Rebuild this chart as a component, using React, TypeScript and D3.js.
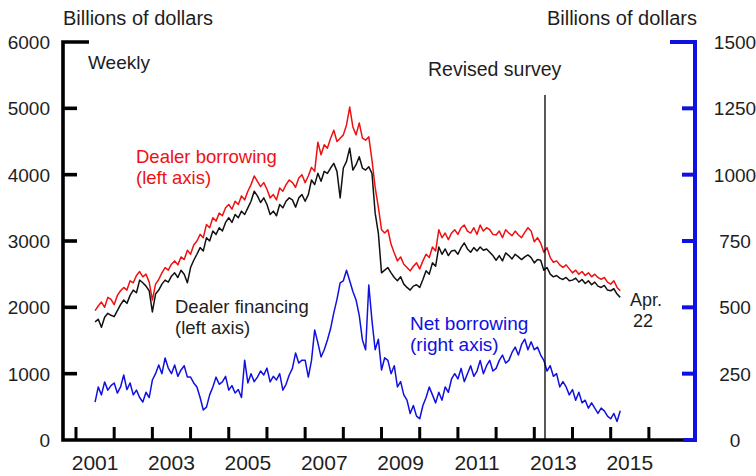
import React from 'react';
import * as d3 from 'd3';

// Monthly readings, July 2001 .. April 2015
const START_YEAR = 2001;
const START_MONTH = 7;

const dealerBorrowing = [
  1950, 2020, 2080, 2000, 2150, 2120,
  2040, 2180, 2250, 2300, 2260, 2400, 2370, 2480, 2540, 2460, 2500, 2380,
  2110, 2350, 2420, 2520, 2600, 2560, 2650, 2700, 2640, 2760, 2720, 2860,
  2800, 2940, 3000, 3100, 3050, 3250, 3200, 3350, 3300, 3420, 3380, 3500,
  3550, 3480, 3600, 3550, 3680, 3620, 3750, 3850, 3980, 3900, 3820, 3880,
  3780, 3650, 3700, 3620, 3800, 3750, 3850, 3920, 3880, 3810, 3950, 4000,
  3880, 3980, 4110, 4050, 4490, 4300, 4450, 4400, 4550, 4670, 4500, 4550,
  4600, 4750, 5020, 4720, 4600, 4780, 4550, 4520, 4570, 4220, 3810, 3510,
  3170, 3120, 3170, 2950, 2820, 2700, 2760, 2650, 2600, 2550, 2620, 2670,
  2580, 2700, 2800, 2750, 2910, 2850, 3170, 3050, 3120, 3020, 3120, 3170,
  3100, 3200, 3240, 3150, 3120, 3200, 3100, 3240, 3150, 3200, 3170, 3100,
  3090, 3150, 3050, 3170, 3120, 3080, 3150, 3090, 3050, 3130, 3200, 3150,
  2990, 3050, 2970, 2830, 2900, 2750, 2680, 2700, 2640, 2600, 2640, 2580,
  2520, 2560, 2500, 2540, 2480, 2520, 2460, 2500, 2450, 2420, 2450, 2380,
  2350, 2400, 2300, 2250,
];

const dealerFinancing = [
  1780, 1820, 1700, 1850, 1910, 1880,
  1860, 1950, 2040, 2110, 2060, 2180, 2260, 2220, 2410, 2370, 2320, 2250,
  1930, 2200, 2260, 2350, 2410, 2380, 2470, 2520, 2450, 2560, 2500, 2370,
  2600, 2710, 2800, 2900, 2850, 3050, 3000, 3150, 3100, 3200, 3150, 3280,
  3350, 3280, 3400, 3350, 3450, 3400, 3500, 3600, 3750, 3680, 3580, 3650,
  3550, 3400, 3450, 3380, 3550, 3500, 3600, 3650, 3620, 3510, 3650, 3700,
  3600, 3700, 3920, 3850, 4020, 3900, 4050, 4020, 4100, 4170, 4050, 3650,
  4100, 4200, 4400, 4070, 4150, 4270, 4100, 4070, 4120, 4020, 3420, 3120,
  2520, 2560, 2600, 2520, 2450, 2400, 2460, 2350, 2300, 2260, 2320, 2340,
  2300, 2420, 2550, 2500, 2670, 2620, 2910, 2800, 2880, 2780, 2850, 2860,
  2800, 2900, 2970, 2880, 2830, 2900, 2850, 2910, 2860, 2880, 2830, 2780,
  2710, 2780, 2700, 2820, 2780, 2730, 2800, 2760, 2720, 2760, 2790, 2750,
  2670, 2720, 2710, 2560, 2600, 2500, 2460, 2480, 2440, 2420, 2450, 2400,
  2410, 2440, 2380, 2420, 2360, 2400, 2340, 2380, 2320, 2300, 2330, 2260,
  2250, 2280, 2200, 2150,
];

// right axis, billions of dollars
const netBorrowing = [
  143, 200, 170, 219, 188, 205,
  215, 177, 200, 245, 190, 215, 170, 188, 160, 143, 180, 160,
  226, 250, 283, 250, 309, 271, 250, 283, 240, 264, 280, 237,
  237, 215, 200, 160, 113, 124, 170, 200, 237, 210, 219, 240,
  188, 205, 177, 190, 160, 301, 215, 250, 220, 237, 260, 245,
  271, 219, 240, 226, 250, 188, 210, 245, 270, 328, 290, 301,
  301, 237, 300, 415, 366, 313, 340, 377, 420, 479, 530, 592,
  600, 640, 600, 560, 528, 470, 377, 340, 584, 450, 340, 380,
  264, 310, 300, 250, 280, 200, 220, 170, 150, 100, 130, 90,
  80, 130, 160, 200, 170, 140, 180, 150, 200, 180, 230, 250,
  230, 270, 220, 250, 280, 240, 260, 300, 250, 280, 300, 260,
  270, 300, 320, 290, 300, 330, 350, 320, 360, 380, 340, 370,
  340, 350, 320, 300, 260, 280, 240, 250, 200, 220, 200, 170,
  190, 150, 180, 140, 150, 120, 140, 120, 100, 120, 110, 90,
  80, 100, 70, 110,
];

const leftTicks = [0, 1000, 2000, 3000, 4000, 5000, 6000];
const rightTicks = [0, 250, 500, 750, 1000, 1250, 1500];
const yearTicks = [2001, 2002, 2003, 2004, 2005, 2006, 2007, 2008, 2009, 2010, 2011, 2012, 2013, 2014, 2015, 2016];
const yearLabels = ['2001', '2003', '2005', '2007', '2009', '2011', '2013', '2015'];
const revisedSurveyDate = 2013.28;

const FONT = "'Liberation Sans', Arial, Helvetica, sans-serif";
const RED = '#ee1111';
const BLUE = '#1010e0';
const TXT = '#1e1e1e';

export default function App() {
  const W = 756, H = 476;
  const left = 63, right = 697, top = 42, bottom = 440;
  const x = d3.scaleLinear().domain([2000.66, 2017.26]).range([left, right]);
  const yL = d3.scaleLinear().domain([0, 6000]).range([bottom, top]);
  const yR = d3.scaleLinear().domain([0, 1500]).range([bottom, top]);
  const t = (i: number) => START_YEAR + (START_MONTH - 1 + i) / 12;

  const lineL = d3.line<number>().x((_, i) => x(t(i))).y((d) => yL(d));
  const lineR = d3.line<number>().x((_, i) => x(t(i))).y((d) => yR(d));

  const rAxisX = 695;
  return (
    <svg width={W} height={H} style={{ position: 'absolute', left: 0, top: 0, background: '#fff' }} fontFamily={FONT}>
      {/* axis titles */}
      <text x={63} y={25} fontSize={20} fill={TXT}>Billions of dollars</text>
      <text x={697} y={25} fontSize={20} fill={TXT} textAnchor="end">Billions of dollars</text>

      {/* series */}
      <path d={lineL(dealerBorrowing) || ''} fill="none" stroke={RED} strokeWidth={1.5} strokeLinejoin="round" />
      <path d={lineL(dealerFinancing) || ''} fill="none" stroke="#111" strokeWidth={1.5} strokeLinejoin="round" />
      <path d={lineR(netBorrowing) || ''} fill="none" stroke={BLUE} strokeWidth={1.5} strokeLinejoin="round" />

      {/* revised survey line */}
      <line x1={x(revisedSurveyDate)} x2={x(revisedSurveyDate)} y1={95} y2={bottom} stroke="#000" strokeWidth={1.3} />

      {/* left axis */}
      <path d={`M${left + 26},${top} H${left} V${bottom} H${683}`} fill="none" stroke="#000" strokeWidth={3.6} />
      {leftTicks.filter((v) => v !== 0 && v !== 6000).map((v) => (
        <line key={v} x1={left} x2={left + 14} y1={yL(v)} y2={yL(v)} stroke="#000" strokeWidth={3.6} />
      ))}
      {leftTicks.map((v) => (
        <text key={v} x={50} y={yL(v) + 7} fontSize={19} fill={TXT} textAnchor="end">{v}</text>
      ))}

      {/* right axis */}
      <path d={`M${670},${top} H${rAxisX} V${bottom} H${683}`} fill="none" stroke={BLUE} strokeWidth={4} />
      {rightTicks.filter((v) => v !== 0 && v !== 1500).map((v) => (
        <line key={v} x1={rAxisX - 13} x2={rAxisX} y1={yR(v)} y2={yR(v)} stroke={BLUE} strokeWidth={4} />
      ))}
      {rightTicks.map((v) => (
        <text key={v} x={735} y={yR(v) + 7} fontSize={19} fill={TXT} textAnchor="middle">{v}</text>
      ))}

      {/* x axis ticks */}
      {yearTicks.map((yr) => (
        <line key={yr} x1={x(yr)} x2={x(yr)} y1={bottom} y2={bottom - 13} stroke="#000" strokeWidth={3} />
      ))}
      {yearLabels.map((yr) => (
        <text key={yr} x={x(+yr + 0.5)} y={470} fontSize={21} fill={TXT} textAnchor="middle">{yr}</text>
      ))}

      {/* annotations */}
      <text x={88} y={69} fontSize={19} fill={TXT}>Weekly</text>
      <text x={428} y={76} fontSize={19.5} fill={TXT}>Revised survey</text>
      <text x={136} y={163} fontSize={18.5} fill={RED}>Dealer borrowing</text>
      <text x={136} y={184} fontSize={18.5} fill={RED}>(left axis)</text>
      <text x={175} y={313} fontSize={18.5} fill={TXT}>Dealer financing</text>
      <text x={175} y={334} fontSize={18.5} fill={TXT}>(left axis)</text>
      <text x={410} y={330} fontSize={19} fill={BLUE}>Net borrowing</text>
      <text x={410} y={351} fontSize={19} fill={BLUE}>(right axis)</text>
      <text x={646} y={306} fontSize={18} fill={TXT} textAnchor="middle">Apr.</text>
      <text x={643} y={327} fontSize={18} fill={TXT} textAnchor="middle">22</text>
    </svg>
  );
}
